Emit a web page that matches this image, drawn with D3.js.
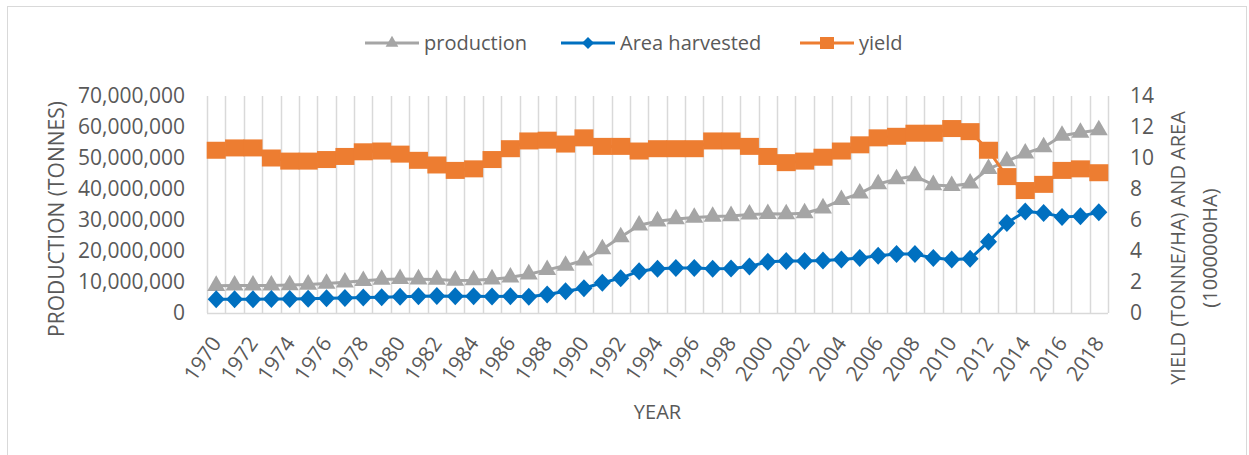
<!DOCTYPE html>
<html>
<head>
<meta charset="utf-8">
<script src="https://cdn.jsdelivr.net/npm/d3@7"></script>
<style>
    body { margin: 0; background: #fff; }
    svg { display: block; font-family: "Open Sans", sans-serif; }
</style>
</head>
<body>
<svg id="chart" width="1249" height="455"></svg>
<script>
"use strict";

var years = d3.range(1970, 2019)

// tonnes (millions)
var production = [8.8, 8.9, 8.9, 8.9, 9.0, 9.2, 9.5, 9.9, 10.4, 10.8,
    11.0, 10.9, 10.8, 10.5, 10.6, 10.9, 11.5, 12.5, 13.9, 15.3,
    17.0, 20.6, 24.5, 28.3, 29.6, 30.3, 30.8, 31.1, 31.3, 31.8,
    32.0, 31.9, 32.2, 33.8, 36.5, 38.6, 41.6, 43.2, 44.2, 41.3,
    41.0, 41.8, 46.5, 49.0, 51.5, 53.5, 57.2, 58.2, 59.0]

// million ha, right axis
var areaHarvested = [0.88, 0.88, 0.88, 0.9, 0.9, 0.92, 0.95, 0.97, 1.0, 1.02,
    1.05, 1.08, 1.1, 1.08, 1.08, 1.07, 1.08, 1.05, 1.2, 1.4,
    1.6, 1.95, 2.25, 2.7, 2.85, 2.9, 2.9, 2.85, 2.87, 3.0,
    3.3, 3.35, 3.35, 3.38, 3.45, 3.55, 3.7, 3.8, 3.8, 3.55,
    3.45, 3.5, 4.6, 5.8, 6.55, 6.45, 6.2, 6.25, 6.5]

// tonne/ha, right axis
var yieldValues = [10.5, 10.65, 10.65, 10.0, 9.8, 9.8, 9.9, 10.1, 10.4, 10.45,
    10.25, 9.85, 9.55, 9.2, 9.3, 9.9, 10.6, 11.1, 11.15, 10.9,
    11.3, 10.75, 10.75, 10.45, 10.6, 10.6, 10.6, 11.1, 11.1, 10.75,
    10.1, 9.7, 9.8, 10.05, 10.45, 10.85, 11.3, 11.4, 11.6, 11.6,
    11.9, 11.7, 10.5, 8.8, 7.9, 8.3, 9.2, 9.3, 9.05]

var leftTicks = d3.range(0, 70000001, 10000000)
var rightTicks = d3.range(0, 15, 2)
var yearTicks = years.filter(function(d) { return d % 2 === 0 })

var seriesNames = ["production", "Area harvested", "yield"]
var seriesColors = ["#a5a5a5", "#0070c0", "#ed7d31"]

var textColor = "#595959"
var gridColor = "#d9d9d9"

var plotLeft = 207, plotRight = 1108, plotTop = 96, plotBottom = 313

var svg = d3.select("#chart")

svg.append("rect")
    .attr("x", 7.5).attr("y", 6.5)
    .attr("width", 1239).attr("height", 460)
    .attr("fill", "#fff")
    .attr("stroke", "#d9d9d9")

var x = d3.scaleBand().domain(years).range([plotLeft, plotRight]).padding(0)
var yLeft = d3.scaleLinear().domain([0, 70000000]).range([plotBottom, plotTop])
var yRight = d3.scaleLinear().domain([0, 14]).range([plotBottom, plotTop])

// vertical gridlines at category boundaries
var bounds = years.map(function(d) { return x(d) }).concat([plotRight])
svg.append("g").selectAll("line")
    .data(bounds)
    .enter().append("line")
    .attr("x1", function(d) { return Math.round(d) + 0.5 })
    .attr("x2", function(d) { return Math.round(d) + 0.5 })
    .attr("y1", plotTop).attr("y2", plotBottom)
    .attr("stroke", gridColor)
    .attr("stroke-width", 1.5)

svg.append("line")
    .attr("x1", plotLeft).attr("x2", plotRight)
    .attr("y1", plotBottom + 0.5).attr("y2", plotBottom + 0.5)
    .attr("stroke", gridColor)
    .attr("stroke-width", 1.5)

// left axis
var leftAxis = svg.append("g")
    .attr("transform", "translate(" + (plotLeft - 19) + ",0)")
    .call(d3.axisLeft(yLeft).tickValues(leftTicks).tickSize(0).tickFormat(d3.format(",")))
leftAxis.select(".domain").remove()
leftAxis.selectAll("text")
    .attr("fill", textColor)
    .attr("font-size", 21)
    .attr("font-family", "Open Sans")

// right axis
var rightAxis = svg.append("g")
    .attr("transform", "translate(" + (plotRight + 19) + ",0)")
    .call(d3.axisRight(yRight).tickValues(rightTicks).tickSize(0))
rightAxis.select(".domain").remove()
rightAxis.selectAll("text")
    .attr("fill", textColor)
    .attr("font-size", 21)
    .attr("font-family", "Open Sans")

// x axis, rotated year labels
var xAxis = svg.append("g")
    .attr("transform", "translate(0," + plotBottom + ")")
    .call(d3.axisBottom(x).tickValues(yearTicks).tickSize(0))
xAxis.select(".domain").remove()
xAxis.selectAll("text")
    .attr("fill", textColor)
    .attr("font-size", 21)
    .attr("font-family", "Open Sans")
    .attr("text-anchor", "end")
    .attr("dy", "0.35em")
    .attr("transform", "translate(0,26) rotate(-55)")
    .attr("y", 0)
    .attr("x", 0)

// axis titles
svg.append("text")
    .attr("transform", "translate(57,219) rotate(-90)")
    .attr("text-anchor", "middle")
    .attr("dy", "0.35em")
    .attr("fill", textColor)
    .attr("font-size", 21)
    .text("PRODUCTION (TONNES)")

var rt = svg.append("text")
    .attr("transform", "translate(1178,248) rotate(-90)")
    .attr("text-anchor", "middle")
    .attr("fill", textColor)
    .attr("font-size", 20)
rt.append("tspan").attr("x", 0).attr("dy", "0.35em").text("YIELD (TONNE/HA) AND AREA")
rt.append("tspan").attr("x", 0).attr("dy", "1.6em").text("(1000000HA)")

svg.append("text")
    .attr("x", (plotLeft + plotRight) / 2)
    .attr("y", 412)
    .attr("dy", "0.35em")
    .attr("text-anchor", "middle")
    .attr("fill", textColor)
    .attr("font-size", 20)
    .text("YEAR")

// series
var cx = function(d, i) { return x(years[i]) + x.bandwidth() / 2 }

function drawLine(values, scale, color) {
    var line = d3.line()
        .x(function(d, i) { return cx(d, i) })
        .y(function(d) { return scale(d) })
    svg.append("path")
        .datum(values)
        .attr("d", line)
        .attr("fill", "none")
        .attr("stroke", color)
        .attr("stroke-width", 3)
        .attr("stroke-linejoin", "round")
}

var triangle = d3.symbol().type(d3.symbolTriangle).size(140)
var diamond = "M0,-9L8.5,0L0,9L-8.5,0Z"

// production (left axis)
drawLine(production.map(function(d) { return d * 1e6 }), yLeft, seriesColors[0])
svg.append("g").selectAll("path")
    .data(production)
    .enter().append("path")
    .attr("d", triangle)
    .attr("transform", function(d, i) {
        return "translate(" + cx(d, i) + "," + yLeft(d * 1e6) + ")"
    })
    .attr("fill", seriesColors[0])

// area harvested (right axis)
drawLine(areaHarvested, yRight, seriesColors[1])
svg.append("g").selectAll("path")
    .data(areaHarvested)
    .enter().append("path")
    .attr("d", diamond)
    .attr("transform", function(d, i) {
        return "translate(" + cx(d, i) + "," + yRight(d) + ")"
    })
    .attr("fill", seriesColors[1])

// yield (right axis)
drawLine(yieldValues, yRight, seriesColors[2])
svg.append("g").selectAll("rect")
    .data(yieldValues)
    .enter().append("rect")
    .attr("x", function(d, i) { return cx(d, i) - 9.5 })
    .attr("y", function(d) { return yRight(d) - 8.5 })
    .attr("width", 19)
    .attr("height", 17)
    .attr("fill", seriesColors[2])

// legend
var legendX = [365, 561, 800]
var legend = svg.append("g").selectAll("g")
    .data(seriesNames)
    .enter().append("g")
    .attr("transform", function(d, i) {
        return "translate(" + legendX[i] + ",43)"
    })

legend.append("line")
    .attr("x1", 0).attr("x2", 54)
    .attr("stroke", function(d, i) { return seriesColors[i] })
    .attr("stroke-width", 3)

legend.append("path")
    .attr("transform", "translate(27,0)")
    .attr("d", function(d, i) {
        if (i === 0) return d3.symbol().type(d3.symbolTriangle).size(70)()
        if (i === 1) return "M0,-6L6,0L0,6L-6,0Z"
        return "M-7,-6H7V6H-7Z"
    })
    .attr("fill", function(d, i) { return seriesColors[i] })

legend.append("text")
    .attr("x", 59)
    .attr("dy", "0.35em")
    .attr("fill", textColor)
    .attr("font-size", 20)
    .text(function(d) { return d })
</script>
</body>
</html>
